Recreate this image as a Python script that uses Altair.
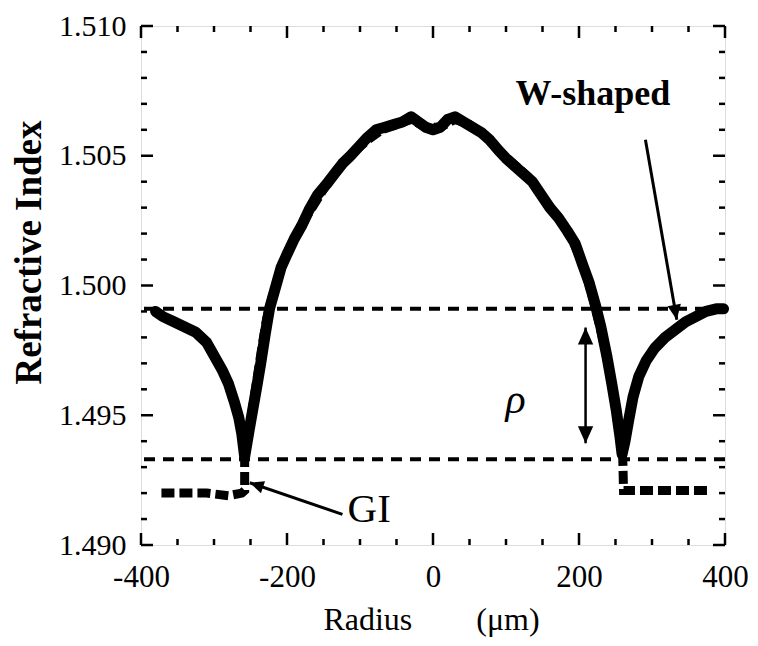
import altair as alt
import pandas as pd

# ---- data ----
w_x = [-380, -370, -355, -340, -325, -310, -298, -288, -280, -272, -266, -262, -258,
       -252, -247, -242, -236, -230, -224, -216, -208, -200, -190, -180, -170, -158,
       -146, -135, -124, -113, -100, -90, -78, -66, -54, -42, -30, -20, -10, 0, 10,
       20, 30, 42, 54, 66, 78, 90, 100, 112, 124, 136, 148, 160, 172, 184, 195, 205,
       214, 222, 230, 238, 245, 251, 256, 259, 263, 268, 274, 282, 292, 304, 318,
       332, 346, 360, 374, 388, 398]
w_n = [1.4990, 1.4988, 1.4986, 1.4984, 1.4982, 1.4978, 1.4972, 1.4967, 1.4962, 1.4955,
       1.4949, 1.4943, 1.4934,
       1.4944, 1.4952, 1.4960, 1.4970, 1.4981, 1.4991, 1.4999, 1.5007, 1.5012, 1.5018,
       1.5023, 1.5029, 1.5035, 1.5039, 1.5043, 1.5047, 1.5050, 1.5054, 1.5057, 1.5060,
       1.5061, 1.5062, 1.5063, 1.5065, 1.5063, 1.5061, 1.5060, 1.5061, 1.5064, 1.5065,
       1.5063, 1.5061, 1.5059, 1.5056, 1.5052, 1.5049, 1.5046, 1.5043, 1.5040, 1.5035,
       1.5030, 1.5026, 1.5021, 1.5016, 1.5008, 1.5001, 1.4993, 1.4984, 1.4973, 1.4962,
       1.4952, 1.4942, 1.4935, 1.4940, 1.4948, 1.4957, 1.4965, 1.4971, 1.4976, 1.4980,
       1.4983, 1.4986, 1.4988, 1.4990, 1.4991, 1.4991]

gi_x = [-372, -340, -310, -280, -262, -258, -258, -252, -246, -240, -234, -228, -220,
        -212, -204, -190, -170, -150, -130, -110, -90, -70, -50, -30, -10, 10, 30, 50,
        70, 90, 110, 130, 150, 170, 190, 204, 212, 220, 228, 236, 244, 250, 256, 260,
        261, 290, 320, 350, 382]
gi_n = [1.4920, 1.4920, 1.4920, 1.4919, 1.4920, 1.4921, 1.4933, 1.4944, 1.4955, 1.4966,
        1.4977, 1.4987, 1.4996, 1.5003, 1.5010, 1.5018, 1.5028, 1.5037, 1.5045, 1.5051,
        1.5056, 1.5060, 1.5062, 1.5064, 1.5061, 1.5061, 1.5064, 1.5062, 1.5058, 1.5052,
        1.5047, 1.5042, 1.5034, 1.5027, 1.5018, 1.5009, 1.5002, 1.4994, 1.4985, 1.4975,
        1.4963, 1.4953, 1.4941, 1.4933, 1.4921, 1.4921, 1.4921, 1.4921, 1.4921]

ref_levels = [1.4991, 1.4933]

x_major = [-400, -200, 0, 200, 400]
x_minor = [-350, -300, -250, -150, -100, -50, 50, 100, 150, 250, 300, 350]
y_major = [1.490, 1.495, 1.500, 1.505, 1.510]
y_minor = [1.491, 1.492, 1.493, 1.494, 1.496, 1.497, 1.498, 1.499,
           1.501, 1.502, 1.503, 1.504, 1.506, 1.507, 1.508, 1.509]

# rho arrow (x, top, bottom)
rho_arrow = [209, 1.49838, 1.49392]
# annotation arrows: start (x, y) -> tip (x, y)
w_arrow = [291, 1.50562, 334, 1.49868]
gi_arrow = [-124, 1.49118, -251, 1.49240]

labels_text = ["W-shaped", "GI", "ρ"]
labels_x = [219, -117, 113]
labels_y = [1.50695, 1.49088, 1.4956]

# ---- chart ----
W, H = 584, 519
FONT = "Liberation Serif"

xscale = alt.Scale(domain=[-400, 400], nice=False, zero=False)
yscale = alt.Scale(domain=[1.490, 1.510], nice=False, zero=False)

xaxis = alt.Axis(values=x_major, ticks=False, domain=False, grid=False,
                 labelExpr="datum.value < 0 ? '-' + abs(datum.value) : '' + datum.value",
                 labelFont=FONT, labelFontSize=31, labelColor="black",
                 labelPadding=17, labelFlush=False, labelOverlap=False,
                 title="Radius" + "\u00a0" * 8 + "(\u03bcm)", titleFont=FONT,
                 titleFontSize=32, titleFontWeight="normal", titleColor="black",
                 titleX=290, titleY=84, titleBaseline="alphabetic")
yaxis = alt.Axis(values=y_major, format=".3f", ticks=False, domain=False, grid=False,
                 labelFont=FONT, labelFontSize=30, labelColor="black",
                 labelPadding=15, labelFlush=False, labelOverlap=False,
                 title="Refractive Index", titleFont=FONT, titleFontSize=37,
                 titleFontWeight="bold", titleColor="black", titleAngle=270,
                 titleX=-112, titleY=226, titleBaseline="middle")

X = alt.X("x:Q", scale=xscale, axis=xaxis)
Y = alt.Y("y:Q", scale=yscale, axis=yaxis)

w_df = pd.DataFrame({"x": w_x, "y": w_n, "i": range(len(w_x))})
gi_df = pd.DataFrame({"x": gi_x, "y": gi_n, "i": range(len(gi_x))})
ref_df = pd.DataFrame({"y": ref_levels})

refs = alt.Chart(ref_df).mark_rule(color="black", strokeWidth=4, strokeDash=[11, 8]).encode(y=Y)

gi_line = alt.Chart(gi_df).mark_line(color="black", strokeWidth=9, strokeDash=[13, 5]).encode(
    x=X, y=Y, order="i:Q")
w_line = alt.Chart(w_df).mark_line(color="black", strokeWidth=11, strokeJoin="round",
                                   strokeCap="round").encode(x=X, y=Y, order="i:Q")

rho_df = pd.DataFrame({"x": [rho_arrow[0]], "y": [rho_arrow[1]], "y2": [rho_arrow[2]]})
rho_shaft = alt.Chart(rho_df).mark_rule(color="black", strokeWidth=2.5).encode(
    x=X, y=Y, y2="y2:Q")

shafts_df = pd.DataFrame({"x": [w_arrow[0], gi_arrow[0]], "y": [w_arrow[1], gi_arrow[1]],
                          "x2": [w_arrow[2], gi_arrow[2]], "y2": [w_arrow[3], gi_arrow[3]]})
shafts = alt.Chart(shafts_df).mark_rule(color="black", strokeWidth=3).encode(
    x=X, y=Y, x2="x2:Q", y2="y2:Q")

heads_df = pd.DataFrame({
    "x": [rho_arrow[0], rho_arrow[0], w_arrow[2], gi_arrow[2]],
    "y": [rho_arrow[1], rho_arrow[2], w_arrow[3], gi_arrow[3]],
    "angle": [180, 0, 350, 109],
    "size": [1156, 1156, 900, 784],
})
heads = alt.Chart(heads_df).mark_point(
    shape="M0,0L0.45,-1L-0.45,-1Z", filled=True, opacity=1, color="black", strokeWidth=0
).encode(x=X, y=Y, angle=alt.Angle("angle:Q", scale=None), size=alt.Size("size:Q", scale=None))

txt = []
styles = [dict(fontSize=36, fontWeight="bold", align="center", baseline="alphabetic"),
          dict(fontSize=41, align="left", baseline="alphabetic"),
          dict(fontSize=42, fontStyle="italic", align="center", baseline="middle")]
for t, tx, ty, st in zip(labels_text, labels_x, labels_y, styles):
    d = pd.DataFrame({"x": [tx], "y": [ty], "t": [t]})
    txt.append(alt.Chart(d).mark_text(font=FONT, color="black", **st).encode(x=X, y=Y, text="t:N"))

def xticks(vals, length):
    d = pd.DataFrame({"x": vals})
    bot = alt.Chart(d).mark_rule(color="black", strokeWidth=2.5).encode(
        x=X, y=alt.value(H), y2=alt.value(H - length))
    top = alt.Chart(d).mark_rule(color="black", strokeWidth=2.5).encode(
        x=X, y=alt.value(0), y2=alt.value(length))
    return [bot, top]

def yticks(vals, length):
    d = pd.DataFrame({"y": vals})
    lft = alt.Chart(d).mark_rule(color="black", strokeWidth=2.5).encode(
        y=Y, x=alt.value(0), x2=alt.value(length))
    rgt = alt.Chart(d).mark_rule(color="black", strokeWidth=2.5).encode(
        y=Y, x=alt.value(W), x2=alt.value(W - length))
    return [lft, rgt]

ticks = xticks(x_major, 12) + xticks(x_minor, 6) + yticks(y_major, 12) + yticks(y_minor, 6)

chart = alt.layer(refs, gi_line, w_line, rho_shaft, shafts, heads, *txt, *ticks).properties(
    width=W, height=H,
    autosize=alt.AutoSizeParams(type="none"),
    padding={"left": 133, "top": 18, "right": 25, "bottom": 93},
).configure_view(stroke="black", strokeWidth=4).configure(background="white")

chart.save("out.html", embed_options={"renderer": "svg", "actions": False})
